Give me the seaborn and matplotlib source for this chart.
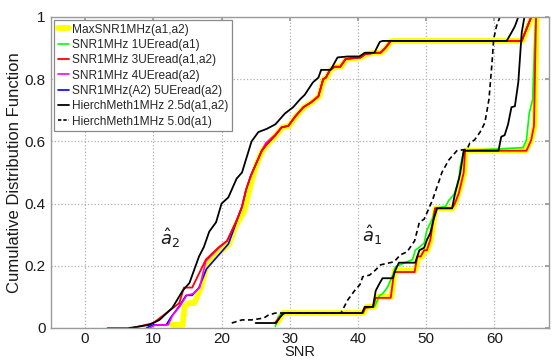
import matplotlib
matplotlib.use("Agg")
import matplotlib.pyplot as plt
from matplotlib.lines import Line2D
import seaborn as sns
import pandas as pd

# ---- CDF curves (SNR in dB, cumulative probability) ----
# MaxSNR1MHz(a1,a2)
maxsnr_a2_snr = [12.8, 14.3, 14.6, 15.2, 16.0, 17.0, 17.7, 18.9, 20.1, 21.1, 22.1, 23.3, 24.5,
                 25.2, 26.0, 26.7, 28.0, 28.9, 29.9, 30.9, 32.1, 33.2, 34.3, 35.0, 35.4, 36.0,
                 36.7, 37.5, 38.3, 40.5, 41.1, 42.5, 43.4, 44.1, 44.9, 64.1, 65.5]
maxsnr_a2_cdf = [0.01, 0.01, 0.07, 0.08, 0.08, 0.13, 0.19, 0.235, 0.25, 0.27, 0.33, 0.375, 0.48,
                 0.53, 0.57, 0.59, 0.62, 0.645, 0.65, 0.68, 0.71, 0.725, 0.745, 0.80, 0.805, 0.83,
                 0.84, 0.84, 0.865, 0.87, 0.88, 0.885, 0.885, 0.90, 0.923, 0.923, 1.0]
maxsnr_a1_snr = [28.3, 29.0, 40.8, 41.3, 42.4, 42.8, 44.9, 45.4, 48.4, 48.9, 49.4, 49.8, 50.2,
                 50.7, 51.4, 53.9, 54.4, 55.0, 55.6, 55.8, 64.6, 65.4, 65.9, 66.2]
maxsnr_a1_cdf = [0.02, 0.048, 0.048, 0.068, 0.068, 0.10, 0.10, 0.185, 0.185, 0.23, 0.23, 0.25, 0.25,
                 0.285, 0.385, 0.385, 0.41, 0.45, 0.50, 0.57, 0.57, 0.605, 0.65, 1.0]

# SNR1MHz 1UEread(a1)
ue1_a1_snr = [27.9, 28.3, 28.8, 40.8, 41.0, 42.4, 43.2, 43.6, 44.3, 45.1, 45.5, 47.2, 48.0,
              48.4, 49.0, 49.7, 50.1, 50.9, 51.3, 52.8, 53.3, 54.1, 54.8, 55.0, 55.5, 64.2,
              64.7, 65.1, 65.6, 66.0, 66.1]
ue1_a1_cdf = [0.005, 0.035, 0.048, 0.048, 0.065, 0.068, 0.105, 0.11, 0.13, 0.17, 0.197, 0.213, 0.22,
              0.25, 0.26, 0.273, 0.315, 0.35, 0.385, 0.39, 0.41, 0.43, 0.48, 0.52, 0.57, 0.58,
              0.605, 0.69, 0.735, 0.97, 1.0]

# SNR1MHz 3UEread(a1,a2)
ue3_a2_snr = [3.3, 7.0, 10.0, 11.9, 13.8, 14.5, 15.7, 17.7, 19.6, 20.8, 22.1, 23.0, 23.6, 24.3,
              25.1, 25.9, 26.6, 27.9, 28.8, 29.8, 30.8, 32.0, 33.1, 34.2, 34.9, 35.3, 35.9,
              36.6, 37.4, 38.2, 40.4, 41.0, 42.4, 43.3, 44.0, 44.8, 64.0, 65.4]
ue3_a2_cdf = [0.0, 0.0, 0.016, 0.048, 0.08, 0.13, 0.13, 0.22, 0.26, 0.28, 0.34, 0.39, 0.445, 0.49,
              0.53, 0.57, 0.59, 0.62, 0.645, 0.65, 0.68, 0.71, 0.725, 0.745, 0.80, 0.805, 0.83,
              0.84, 0.84, 0.865, 0.87, 0.88, 0.885, 0.885, 0.90, 0.923, 0.923, 1.0]
ue3_a1_snr = [27.8, 28.8, 29.3, 40.7, 41.1, 42.2, 42.6, 44.8, 45.3, 48.3, 48.7, 49.2, 49.7, 50.1,
              50.6, 51.3, 53.8, 54.2, 54.8, 55.5, 55.7, 64.7, 65.4, 65.8, 66.1]
ue3_a1_cdf = [0.016, 0.042, 0.048, 0.048, 0.065, 0.068, 0.097, 0.097, 0.18, 0.18, 0.23, 0.23, 0.25,
              0.25, 0.283, 0.385, 0.385, 0.40, 0.435, 0.50, 0.57, 0.57, 0.605, 0.65, 1.0]

# SNR1MHz 4UEread(a2)
ue4_a2_snr = [9.5, 10.3, 12.2, 12.8, 13.9, 14.9, 15.8, 16.8, 17.7, 19.5, 20.8, 22.1, 23.0, 23.6,
              24.3, 25.1, 25.9, 26.5, 27.8, 28.8, 29.8, 30.8, 32.0, 33.1, 34.2, 34.9, 35.3,
              35.9, 36.6, 37.4, 38.2, 40.4, 41.0, 42.4, 43.3, 44.0, 44.8, 64.0, 65.4]
ue4_a2_cdf = [0.0, 0.01, 0.01, 0.04, 0.07, 0.105, 0.11, 0.13, 0.215, 0.255, 0.28, 0.34, 0.39, 0.445,
              0.49, 0.53, 0.57, 0.595, 0.62, 0.645, 0.65, 0.68, 0.71, 0.725, 0.745, 0.80, 0.805,
              0.83, 0.84, 0.84, 0.865, 0.87, 0.88, 0.885, 0.885, 0.90, 0.923, 0.923, 1.0]

# SNR1MHz(A2) 5UEread(a2)
ue5_a2_snr = [9.0, 10.0, 11.9, 12.6, 13.8, 14.8, 15.7, 16.7, 17.8, 19.4, 21.0, 22.0, 23.0, 23.6,
              24.3, 25.1, 25.9, 26.6, 27.9, 28.8, 29.8, 30.8, 32.0, 33.1, 34.2, 34.9, 35.3,
              35.9, 36.6, 37.4, 38.2, 40.4, 41.0, 42.4, 43.3, 44.0, 44.8, 64.0, 65.4]
ue5_a2_cdf = [0.0, 0.01, 0.01, 0.035, 0.07, 0.105, 0.105, 0.13, 0.19, 0.23, 0.27, 0.33, 0.39, 0.445,
              0.49, 0.53, 0.57, 0.59, 0.62, 0.645, 0.65, 0.68, 0.71, 0.725, 0.745, 0.80, 0.805,
              0.83, 0.84, 0.84, 0.865, 0.87, 0.88, 0.885, 0.885, 0.90, 0.923, 0.923, 1.0]

# HierchMeth1MHz 2.5d(a1,a2)
hier25_a2_snr = [6.5, 9.4, 10.9, 12.8, 14.3, 15.3, 16.7, 17.4, 18.2, 19.2, 20.0, 21.0, 22.2, 23.0,
                 23.7, 24.4, 25.4, 26.6, 27.9, 29.3, 30.5, 31.5, 32.2, 33.4, 34.2, 34.6, 36.0,
                 37.0, 38.5, 40.2, 41.0, 42.4, 43.2, 43.6, 61.8, 62.5, 63.0, 63.5]
hier25_a2_cdf = [0.0, 0.01, 0.026, 0.065, 0.12, 0.145, 0.23, 0.26, 0.31, 0.34, 0.40, 0.42, 0.48, 0.50,
                 0.55, 0.60, 0.63, 0.64, 0.655, 0.69, 0.71, 0.735, 0.75, 0.79, 0.805, 0.83, 0.83,
                 0.87, 0.873, 0.873, 0.885, 0.885, 0.92, 0.923, 0.923, 0.95, 0.97, 1.0]
hier25_a1_snr = [25.0, 28.0, 28.6, 29.1, 40.6, 41.0, 42.2, 42.6, 43.2, 43.6, 45.1, 45.5, 46.0,
                 48.4, 49.0, 49.7, 50.1, 50.6, 51.1, 51.6, 53.8, 54.2, 54.8, 55.0, 55.5, 60.6,
                 61.0, 61.5, 62.0, 62.5, 63.0, 63.5, 64.0, 64.4]
hier25_a1_cdf = [0.016, 0.016, 0.035, 0.048, 0.048, 0.068, 0.068, 0.12, 0.145, 0.16, 0.16, 0.187, 0.21,
                 0.21, 0.25, 0.258, 0.283, 0.305, 0.35, 0.385, 0.385, 0.43, 0.48, 0.50, 0.57, 0.57,
                 0.615, 0.62, 0.655, 0.71, 0.713, 0.79, 0.95, 1.0]

# HierchMeth1MHz 5.0d(a1)
hier50_a1_snr = [21.5, 23.0, 24.4, 26.2, 26.9, 27.9, 37.5, 38.5, 39.5, 40.3, 40.7, 41.7, 42.6,
                 43.3, 45.3, 46.2, 47.2, 48.3, 49.0, 49.7, 50.4, 50.9, 52.0, 52.3, 53.3, 54.5,
                 56.0, 56.4, 57.1, 57.9, 58.6, 59.2, 59.6, 59.9, 60.3, 60.8]
hier50_a1_cdf = [0.016, 0.026, 0.026, 0.032, 0.042, 0.048, 0.048, 0.09, 0.12, 0.14, 0.165, 0.17, 0.187,
                 0.203, 0.213, 0.235, 0.245, 0.28, 0.34, 0.35, 0.385, 0.41, 0.48, 0.50, 0.54, 0.57,
                 0.575, 0.595, 0.605, 0.63, 0.66, 0.735, 0.84, 0.93, 0.97, 1.0]

series_labels = ["MaxSNR1MHz(a1,a2)", "SNR1MHz 1UEread(a1)", "SNR1MHz 3UEread(a1,a2)",
                 "SNR1MHz 4UEread(a2)", "SNR1MHz(A2) 5UEread(a2)",
                 "HierchMeth1MHz 2.5d(a1,a2)", "HierchMeth1MHz 5.0d(a1)"]
x_ticks = [0, 10, 20, 30, 40, 50, 60]
y_ticks = [0, 0.2, 0.4, 0.6, 0.8, 1.0]
y_tick_labels = ["0", "0.2", "0.4", "0.6", "0.8", "1"]

sns.set_theme(style="white")
plt.rcParams["font.family"] = ["Liberation Sans", "DejaVu Sans"]
plt.rcParams["mathtext.fontset"] = "dejavusans"

fig = plt.figure(figsize=(5.56, 3.6), dpi=100)
ax = fig.add_axes([0.0917, 0.0889, 0.8957, 0.8639])

# label -> (colour, width, dash pattern); dict order is the drawing order
styles = {
    series_labels[0]: ("#ffff00", 4.2, None),
    series_labels[1]: ("#00ff00", 1.2, None),
    series_labels[4]: ("#0000ff", 1.2, None),
    series_labels[3]: ("#ff00ff", 1.2, None),
    series_labels[2]: ("#ff0000", 1.3, None),
    series_labels[5]: ("#000000", 1.3, None),
    series_labels[6]: ("#000000", 1.2, (3, 2)),
}
curves = {
    series_labels[0]: [(maxsnr_a2_snr, maxsnr_a2_cdf), (maxsnr_a1_snr, maxsnr_a1_cdf)],
    series_labels[1]: [(ue1_a1_snr, ue1_a1_cdf)],
    series_labels[4]: [(ue5_a2_snr, ue5_a2_cdf)],
    series_labels[3]: [(ue4_a2_snr, ue4_a2_cdf)],
    series_labels[2]: [(ue3_a2_snr, ue3_a2_cdf), (ue3_a1_snr, ue3_a1_cdf)],
    series_labels[5]: [(hier25_a2_snr, hier25_a2_cdf), (hier25_a1_snr, hier25_a1_cdf)],
    series_labels[6]: [(hier50_a1_snr, hier50_a1_cdf)],
}

for label, (color, lw, dash) in styles.items():
    for xs, ys in curves[label]:
        df = pd.DataFrame({"SNR": xs, "CDF": ys})
        sns.lineplot(data=df, x="SNR", y="CDF", ax=ax, sort=False, estimator=None,
                     legend=False, color=color, linewidth=lw)
        if dash is not None:
            ax.lines[-1].set_dashes(dash)

ax.set_xlim(-5, 68)
ax.set_ylim(0, 1)
ax.set_xticks(x_ticks)
ax.set_yticks(y_ticks)
ax.set_yticklabels(y_tick_labels)
ax.grid(True, linestyle=":", color="#b0b0b0", linewidth=0.9)
for s in ax.spines.values():
    s.set_color("#9a9a9a")
    s.set_linewidth(1.0)
ax.tick_params(axis="both", labelsize=11, colors="#9a9a9a", labelcolor="#1a1a1a",
               direction="in", length=3, pad=4, top=True, right=True)
ax.tick_params(axis="x", pad=3)
ax.set_xlabel("SNR", fontsize=10.5, labelpad=-1, color="#1a1a1a")
ax.set_ylabel("Cumulative Distribution Function", fontsize=12, labelpad=2, color="#1a1a1a")

ax.text(12.5, 0.29, r"$\hat{a}_2$", fontsize=13, ha="center", va="center", color="#1a1a1a")
ax.text(42.0, 0.30, r"$\hat{a}_1$", fontsize=13, ha="center", va="center", color="#1a1a1a")

handles = []
for label in series_labels:
    color, lw, dash = styles[label]
    h = Line2D([], [], color=color, linewidth=lw)
    if dash is not None:
        h.set_dashes((2, 1.2))
    handles.append(h)
leg = ax.legend(handles, series_labels, loc="upper left", bbox_to_anchor=(0.0, 1.0),
                fontsize=8.6, frameon=True, fancybox=False, framealpha=1,
                edgecolor="#8a8a8a", borderaxespad=0.25, handlelength=1.0,
                handletextpad=0.25, labelspacing=0.28, borderpad=0.3)
leg.get_frame().set_linewidth(0.9)

fig.savefig("out.png", dpi=100)
